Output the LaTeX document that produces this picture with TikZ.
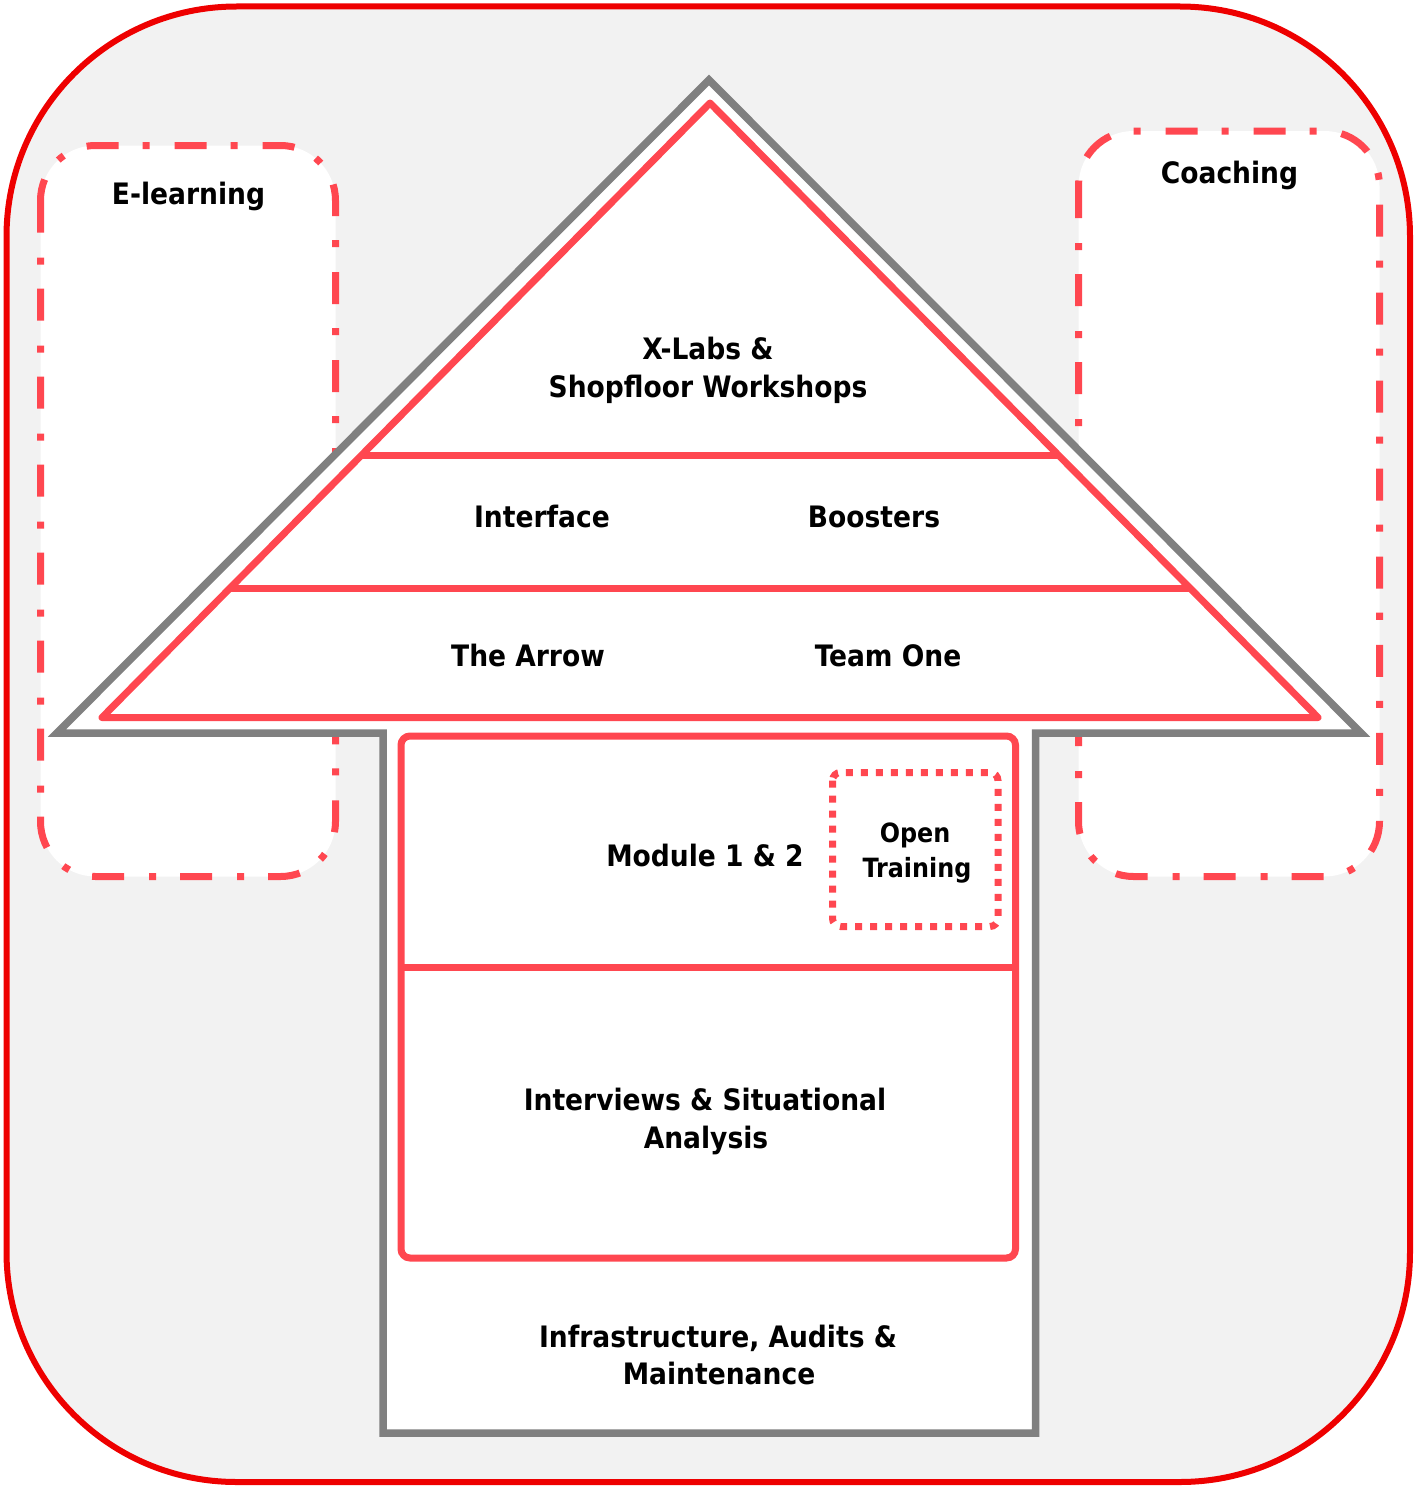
\documentclass[tikz,border=0pt]{standalone}
\usepackage{fontspec}
\setmainfont{DejaVu Sans Condensed}
\definecolor{outerred}{RGB}{238,0,0}
\definecolor{pinkred}{RGB}{255,71,80}
\definecolor{arrowgray}{RGB}{128,128,128}
\definecolor{bggray}{RGB}{242,242,242}
\begin{document}
\begin{tikzpicture}[x=1pt,y=-1pt,
  lbl/.style={font=\bfseries\fontsize{29.5}{36}\selectfont, anchor=base, inner sep=0pt, text=black},
  slbl/.style={font=\bfseries\fontsize{26.5}{32}\selectfont, anchor=base, inner sep=0pt, text=black},
  sidebox/.style={draw=pinkred, fill=white, line width=7pt, rounded corners=55pt, dash pattern=on 32pt off 25pt on 7pt off 24pt},
  redline/.style={draw=pinkred, line width=7pt},
  grayline/.style={draw=arrowgray, line width=7.5pt, fill=white, miter limit=10}
]
\useasboundingbox (0,0) rectangle (1416,1488);
% background
\draw[outerred, fill=bggray, line width=6pt, rounded corners=230pt] (6.5,6.5) rectangle (1410,1482);
% side boxes
\path[sidebox] (40.5,145.5) rectangle (335.5,876.5);
\path[sidebox] (1078.5,131) rectangle (1379.5,876.5);
% gray arrow
\path[grayline] (57,733) -- (709,80) -- (1361,733) -- (1035.5,733) -- (1035.5,1433) -- (383,1433) -- (383,733) -- cycle;
% red triangle
\path[redline, line join=round] (710,103) -- (1318,717.5) -- (102,717.5) -- cycle;
\path[redline] (361.7,455) -- (1058.3,455);
\path[redline] (230.1,588) -- (1189.9,588);
% red box
\path[redline, rounded corners=9pt] (401,736) rectangle (1015.5,1258);
\path[redline] (401,967) -- (1015.5,967);
% open training dotted box
\path[redline, dash pattern=on 7pt off 8pt, rounded corners=8pt] (832.5,772.5) rectangle (998,926.5);
% texts
\node[lbl] (elearn) at (188.5,204) {E-learning};
\node[lbl] (coach) at (1229.5,183) {Coaching};
\node[lbl] (xlabsA) at (708,359) {X-Labs \&};
\node[lbl] (xlabsB) at (708,397) {Shopfloor Workshops};
\node[lbl] (iface) at (542,527) {Interface};
\node[lbl] (boost) at (874,527) {Boosters};
\node[lbl] (arrow) at (528,666) {The Arrow};
\node[lbl] (teamone) at (888,666) {Team One};
\node[lbl] (module) at (705,866) {Module 1 \& 2};
\node[slbl] (openA) at (915,842) {Open};
\node[slbl] (openB) at (917,877) {Training};
\node[lbl] (intA) at (705,1110) {Interviews \& Situational};
\node[lbl] (intB) at (706,1148) {Analysis};
\node[lbl] (infA) at (718,1347) {Infrastructure, Audits \&};
\node[lbl] (infB) at (719,1384) {Maintenance};
\end{tikzpicture}
\end{document}
